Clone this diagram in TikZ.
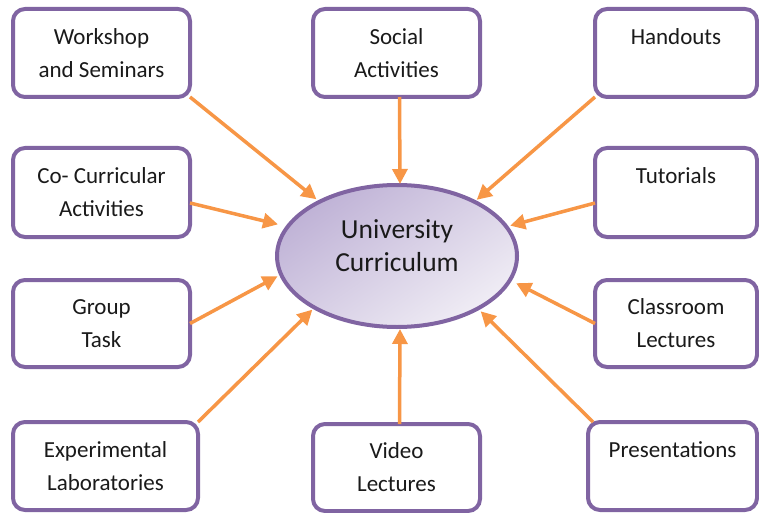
\documentclass[tikz,border=0pt]{standalone}
\usepackage{fontspec}
\setmainfont{Carlito}
\usetikzlibrary{shapes.geometric,arrows.meta}
\definecolor{boxpurple}{HTML}{8064A2}
\definecolor{arrorange}{HTML}{F79646}
\definecolor{ucdark}{HTML}{BFB2D6}
\definecolor{uclight}{HTML}{F0EDF5}
\definecolor{txtcol}{HTML}{1A1A1A}
\tikzset{
  box/.style={draw=boxpurple, line width=4pt, rounded corners=12pt, fill=white,
    outer sep=0pt, align=center, text=txtcol,
    font=\fontsize{23}{33}\selectfont},
  ucell/.style={ellipse, draw=boxpurple, line width=4pt, outer sep=0pt,
    minimum width=240pt, minimum height=142pt,
    top color=ucdark, bottom color=uclight, shading angle=35},
  uctxt/.style={align=center, text=txtcol, font=\fontsize{27.5}{33}\selectfont},
  arr/.style={draw=arrorange, line width=3.5pt,
    -{Triangle[length=15pt,width=15pt]}}
}
\begin{document}
\begin{tikzpicture}[x=1pt,y=-1pt]
\useasboundingbox (0,0) rectangle (759,513);
% boxes
\node[box, minimum width=177pt, minimum height=88pt] (ws) at (101.5,53) {Workshop\\and Seminars};
\node[box, minimum width=167pt, minimum height=88pt] (so) at (396.5,53) {Social\\Activities};
\node[box, minimum width=162pt, minimum height=88pt] (hd) at (676,53) {Handouts\\\mbox{}};
\node[box, minimum width=177pt, minimum height=89pt] (cc) at (101.5,192.5) {Co- Curricular\\Activities};
\node[box, minimum width=162pt, minimum height=89pt] (tu) at (676,192.5) {Tutorials\\\mbox{}};
\node[box, minimum width=177pt, minimum height=87pt] (gt) at (101.5,323.5) {Group\\Task};
\node[box, minimum width=162pt, minimum height=87pt] (cl) at (676,323.5) {Classroom\\Lectures};
\node[box, minimum width=185pt, minimum height=88pt] (el) at (105.5,466) {Experimental\\Laboratories};
\node[box, minimum width=167pt, minimum height=87pt] (vl) at (396.5,467.5) {Video\\Lectures};
\node[box, minimum width=169pt, minimum height=88pt] (pr) at (672.5,466) {Presentations\\\mbox{}};
% centre
\node[ucell] (uc) at (397,256) {};
\node[uctxt] (uct) at (397,246) {University\\Curriculum};
% arrows
\draw[arr, shorten >=4pt] (ws.south east) -- (uc.145.7);
\draw[arr, shorten >=1pt] ([xshift=3pt]so.south) -- ([xshift=3pt]uc.north);
\draw[arr, shorten >=3pt] (hd.south west) -- (uc.35);
\draw[arr, shorten >=10pt] ([yshift=-10.5pt]cc.east) -- (uc.165.5);
\draw[arr, shorten >=4pt] ([yshift=-10.5pt]tu.west) -- (uc.15.3);
\draw[arr, shorten >=4pt] (gt.east) -- (uc.189);
\draw[arr, shorten >=7pt] (cl.west) -- (uc.348.8);
\draw[arr, shorten >=3pt] (el.north east) -- (uc.212.7);
\draw[arr, shorten >=2pt] ([xshift=3pt]vl.north) -- ([xshift=3pt]uc.south);
\draw[arr, shorten >=4pt] ([xshift=5pt]pr.north west) -- (uc.327.6);
\end{tikzpicture}
\end{document}
